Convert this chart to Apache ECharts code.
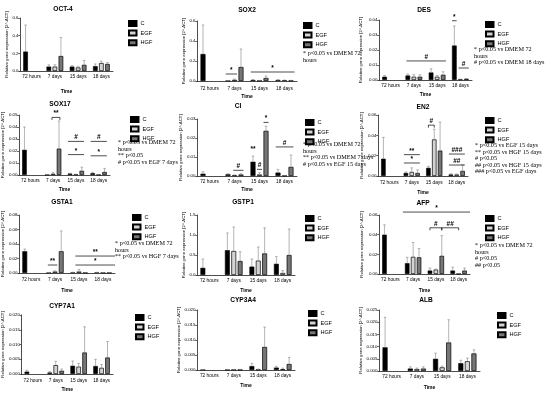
<!DOCTYPE html>
<html><head><meta charset="utf-8">
<script src="https://cdn.jsdelivr.net/npm/echarts@6/dist/echarts.min.js"></script>
<style>html,body{margin:0;padding:0;background:#fff}#c{width:550px;height:394px}</style>
</head><body><div id="c"></div>
<script>
const categories = ['72 hours', '7 days', '15 days', '18 days'];
const groups = ['C', 'EGF', 'HGF'];

// ---- means and error-bar tops (mean + SD), per gene ----
const OCT4_C = [0.22, 0.05, 0.05, 0.055],   OCT4_C_UP = [0.52, 0.07, 0.06, 0.08];
const OCT4_EGF = [null, 0.05, 0.04, 0.09],  OCT4_EGF_UP = [null, 0.07, 0.05, 0.11];
const OCT4_HGF = [null, 0.17, 0.07, 0.08],  OCT4_HGF_UP = [null, 0.38, 0.12, 0.095];

const SOX2_C = [0.27, 0.003, 0.01, 0.01],    SOX2_C_UP = [0.56, 0.005, 0.015, 0.013];
const SOX2_EGF = [null, 0.012, 0.004, 0.008], SOX2_EGF_UP = [null, 0.02, 0.006, 0.01];
const SOX2_HGF = [null, 0.14, 0.03, 0.005],   SOX2_HGF_UP = [null, 0.32, 0.05, 0.007];

const DES_C = [0.0022, 0.003, 0.005, 0.023],    DES_C_UP = [0.003, 0.004, 0.0075, 0.036];
const DES_EGF = [null, 0.0022, 0.0022, 0.0005], DES_EGF_UP = [null, 0.0035, 0.003, 0.0006];
const DES_HGF = [null, 0.0022, 0.0035, 0.0008], DES_HGF_UP = [null, 0.0035, 0.0055, 0.001];

const SOX17_C = [0.021, 0.0002, 0.0012, 0.0015], SOX17_C_UP = [0.040, 0.0003, 0.0015, 0.0022];
const SOX17_EGF = [null, 0.001, 0.0005, 0.0003], SOX17_EGF_UP = [null, 0.002, 0.0007, 0.0004];
const SOX17_HGF = [null, 0.022, 0.0035, 0.0025], SOX17_HGF_UP = [null, 0.045, 0.0065, 0.0055];

const CI_C = [0.0012, 0.0009, 0.0075, 0.0018], CI_C_UP = [0.0022, 0.0012, 0.0105, 0.0035];
const CI_EGF = [null, 0.0004, 0.0008, 0.0002], CI_EGF_UP = [null, 0.0006, 0.0018, 0.0003];
const CI_HGF = [null, 0.0008, 0.0238, 0.0048], CI_HGF_UP = [null, 0.0012, 0.0262, 0.011];

const EN2_C = [0.017, 0.003, 0.008, 0.0015], EN2_C_UP = [0.038, 0.004, 0.0095, 0.0022];
const EN2_EGF = [null, 0.004, 0.036, 0.0015], EN2_EGF_UP = [null, 0.008, 0.046, 0.002];
const EN2_HGF = [null, 0.003, 0.025, 0.005],  EN2_HGF_UP = [null, 0.006, 0.053, 0.011];

const GSTA1_C = [0.030, 0.0002, 0.0008, 0.0008], GSTA1_C_UP = [0.033, 0.0003, 0.001, 0.001];
const GSTA1_EGF = [null, 0.002, 0.002, 0.0002],  GSTA1_EGF_UP = [null, 0.003, 0.005, 0.0003];
const GSTA1_HGF = [null, 0.030, 0.0003, 0.0002], GSTA1_HGF_UP = [null, 0.058, 0.0004, 0.0003];

const GSTP1_C = [0.18, 0.62, 0.21, 0.28],   GSTP1_C_UP = [0.40, 1.05, 0.40, 0.46];
const GSTP1_EGF = [null, 0.60, 0.36, 0.05], GSTP1_EGF_UP = [null, 1.20, 0.70, 0.11];
const GSTP1_HGF = [null, 0.35, 0.54, 0.50], GSTP1_HGF_UP = [null, 0.58, 1.18, 1.15];

const AFP_C = [0.040, 0.011, 0.0035, 0.0035],  AFP_C_UP = [0.050, 0.017, 0.006, 0.007];
const AFP_EGF = [null, 0.0175, 0.0045, 0.0003], AFP_EGF_UP = [null, 0.032, 0.005, 0.0005];
const AFP_HGF = [null, 0.017, 0.0185, 0.0035],  AFP_HGF_UP = [null, 0.026, 0.039, 0.006];

const CYP7A1_C = [0.0008, 0.0005, 0.0028, 0.0027], CYP7A1_C_UP = [0.0013, 0.0008, 0.0044, 0.005];
const CYP7A1_EGF = [null, 0.003, 0.0025, 0.0021],  CYP7A1_EGF_UP = [null, 0.0043, 0.0036, 0.0032];
const CYP7A1_HGF = [null, 0.0011, 0.0073, 0.0056], CYP7A1_HGF_UP = [null, 0.0017, 0.016, 0.011];

const CYP3A4_C = [0.00005, 0.00005, 0.0013, 0.0008], CYP3A4_C_UP = [0.00008, 0.0001, 0.0022, 0.0012];
const CYP3A4_EGF = [null, 0.00005, 0.0001, 0.0003],  CYP3A4_EGF_UP = [null, 0.0001, 0.0003, 0.0006];
const CYP3A4_HGF = [null, 0.0001, 0.0077, 0.002],    CYP3A4_HGF_UP = [null, 0.0002, 0.0143, 0.0042];

const ALB_C = [0.0097, 0.001, 0.005, 0.0032],  ALB_C_UP = [0.022, 0.0017, 0.0073, 0.0044];
const ALB_EGF = [null, 0.0008, 0.0015, 0.004], ALB_EGF_UP = [null, 0.0012, 0.002, 0.0053];
const ALB_HGF = [null, 0.001, 0.0117, 0.0072], ALB_HGF_UP = [null, 0.0017, 0.021, 0.0087];

// y-axis scales
const yMax  = [0.6, 0.6, 0.04, 0.05, 0.03, 0.06, 0.08, 1.5, 0.06, 0.02, 0.02, 0.025];
const yStep = [0.2, 0.2, 0.01, 0.01, 0.01, 0.02, 0.02, 0.5, 0.02, 0.005, 0.005, 0.005];
const yDec  = [1, 1, 2, 2, 2, 2, 2, 1, 2, 3, 3, 3];

// significance marks: [from (group units), to, y value, label, kind 0=line 1=bracket 2=text only]
const SOX2_SIG = [[0.65, 1.1, 0.07, '*', 0], [1.65, 3.4, 0.09, '*', 0]];
const DES_SIG = [[0.68, 2.38, 0.0127, '#', 0], [2.64, 2.84, 0.0395, '*', 0], [2.92, 3.36, 0.008, '#', 0]];
const SOX17_SIG = [[0.95, 1.3, 0.048, '**', 1], [1.65, 2.36, 0.028, '#', 0], [1.65, 2.36, 0.017, '*', 0],
                   [2.65, 3.36, 0.028, '#', 0], [2.65, 3.36, 0.016, '*', 0]];
const CI_SIG = [[0.95, 1.36, 0.003, '#', 0], [1.74, 1.74, 0.0122, '**', 2], [1.9, 2.1, 0.0035, '#', 0],
                [2.16, 2.36, 0.0282, '*', 0], [2.65, 3.36, 0.0153, '#', 0]];
const EN2_SIG = [[0.65, 1.36, 0.021, '**', 0], [0.65, 1.36, 0.0128, '*', 0], [1.74, 2.0, 0.05, '#', 1],
                 [2.65, 3.36, 0.0216, '###', 0], [2.65, 3.36, 0.0108, '##', 0]];
const GSTA1_SIG = [[0.7, 1.1, 0.011, '**', 0], [1.85, 3.5, 0.0234, '**', 0], [1.85, 3.5, 0.011, '*', 0]];
const AFP_SIG = [[0.55, 3.5, 0.063, '*', 0], [1.74, 2.26, 0.047, '#', 1], [2.26, 3.0, 0.047, '##', 1]];

const notes = [
  null,
  '* p<0.05 vs DMEM 72\nhours',
  '* p<0.05 vs DMEM 72\nhours\n# p<0.05 vs DMEM 18 days',
  '* p<0.05 vs DMEM 72\nhours\n** p<0.05\n# p<0.05 vs EGF 7 days',
  '* p<0.05 vs DMEM 72\nhours\n** p<0.05 vs DMEM 7 days\n# p<0.05 vs EGF 15 days',
  '* p<0.05 vs EGF 15 days\n** p<0.05 vs HGF 15 days\n# p<0.05\n## p<0.05 vs HGF 15 days\n### p<0.05 vs EGF days',
  '* p<0.05 vs DMEM 72\nhours\n** p<0.05 vs HGF 7 days',
  null,
  '* p<0.05 vs DMEM 72\nhours\n# p<0.05\n## p<0.05',
  null, null, null
];

const panels = [
  {t: 'OCT-4',  m: [OCT4_C, OCT4_EGF, OCT4_HGF], u: [OCT4_C_UP, OCT4_EGF_UP, OCT4_HGF_UP], s: []},
  {t: 'SOX2',   m: [SOX2_C, SOX2_EGF, SOX2_HGF], u: [SOX2_C_UP, SOX2_EGF_UP, SOX2_HGF_UP], s: SOX2_SIG},
  {t: 'DES',    m: [DES_C, DES_EGF, DES_HGF], u: [DES_C_UP, DES_EGF_UP, DES_HGF_UP], s: DES_SIG},
  {t: 'SOX17',  m: [SOX17_C, SOX17_EGF, SOX17_HGF], u: [SOX17_C_UP, SOX17_EGF_UP, SOX17_HGF_UP], s: SOX17_SIG},
  {t: 'CI',     m: [CI_C, CI_EGF, CI_HGF], u: [CI_C_UP, CI_EGF_UP, CI_HGF_UP], s: CI_SIG},
  {t: 'EN2',    m: [EN2_C, EN2_EGF, EN2_HGF], u: [EN2_C_UP, EN2_EGF_UP, EN2_HGF_UP], s: EN2_SIG},
  {t: 'GSTA1',  m: [GSTA1_C, GSTA1_EGF, GSTA1_HGF], u: [GSTA1_C_UP, GSTA1_EGF_UP, GSTA1_HGF_UP], s: GSTA1_SIG},
  {t: 'GSTP1',  m: [GSTP1_C, GSTP1_EGF, GSTP1_HGF], u: [GSTP1_C_UP, GSTP1_EGF_UP, GSTP1_HGF_UP], s: []},
  {t: 'AFP',    m: [AFP_C, AFP_EGF, AFP_HGF], u: [AFP_C_UP, AFP_EGF_UP, AFP_HGF_UP], s: AFP_SIG},
  {t: 'CYP7A1', m: [CYP7A1_C, CYP7A1_EGF, CYP7A1_HGF], u: [CYP7A1_C_UP, CYP7A1_EGF_UP, CYP7A1_HGF_UP], s: []},
  {t: 'CYP3A4', m: [CYP3A4_C, CYP3A4_EGF, CYP3A4_HGF], u: [CYP3A4_C_UP, CYP3A4_EGF_UP, CYP3A4_HGF_UP], s: []},
  {t: 'ALB',    m: [ALB_C, ALB_EGF, ALB_HGF], u: [ALB_C_UP, ALB_EGF_UP, ALB_HGF_UP], s: []}
];

// layout: left, top, width, height, titleX, titleY, legendLeft, legendTop, yNameGap, xLabelMargin, xNameGap, noteX, noteY
const LAYOUT = [
  [20, 18, 93, 53,   63, 9,    128, 20,  11, 3.5, 18, 0, 0],
  [197, 21, 100, 60, 247, 10,  303, 22,  8, 5.5, 13,  303, 50],
  [379, 20, 93, 60,  424, 10,  485, 21,  16, 3.5, 12, 474, 46],
  [19, 115, 91, 60,  60, 104,  130, 116, 10, 3, 12,   118, 139],
  [197, 119, 100, 57, 238, 106, 305, 119, 9, 3, 11,   303, 141],
  [378, 115, 90, 61, 423, 107, 485, 117, 14, 4.5, 14, 475, 142],
  [19, 215, 96, 58,  62, 202,  132, 214, 10, 4.5, 15, 115, 240],
  [197, 215, 98, 60, 243, 202, 305, 215, 9, 3.5, 13,  0, 0],
  [379, 215, 91, 59, 423, 203, 485, 215, 15, 3.5, 14, 475, 242],
  [19, 315, 94, 59,  62, 306,  135, 314, 10, 4.5, 13, 0, 0],
  [197, 310, 98, 60, 243, 300, 308, 310, 10, 3.5, 13, 0, 0],
  [379, 310, 101, 61, 426, 300, 497, 312, 15, 3.5, 14, 0, 0]
];

const SANS = 'Liberation Sans, Arial, sans-serif';
const SERIF = 'Liberation Serif, Times New Roman, serif';
const barStyles = [
  {color: '#000000', borderColor: '#000', borderWidth: 0.6},
  {color: '#d4d4d4', borderColor: '#000', borderWidth: 0.7},
  {color: '#767676', borderColor: '#000', borderWidth: 0.7}
];
const OFFSET = 0.26;

function renderErr(params, api) {
  const top = api.coord([api.value(0), api.value(1)]);
  const base = api.coord([api.value(0), api.value(2)]);
  const bw = api.size([1, 0])[0];
  const x = top[0] + (api.value(3) - 1) * OFFSET * bw;
  const cap = 1.3;
  const st = {stroke: '#8c8c8c', lineWidth: 0.65};
  return {type: 'group', children: [
    {type: 'line', shape: {x1: x, y1: base[1], x2: x, y2: top[1]}, style: st},
    {type: 'line', shape: {x1: x - cap, y1: top[1], x2: x + cap, y2: top[1]}, style: st}
  ]};
}
function makeSig(list) {
  return function (params, api) {
    const a = list[params.dataIndex];
    const p0 = api.coord([0, a[2]]);
    const bw = api.size([1, 0])[0];
    const x1 = p0[0] + a[0] * bw, x2 = p0[0] + a[1] * bw, y = p0[1];
    const ch = [];
    const st = {stroke: '#000', lineWidth: 0.7};
    if (a[4] !== 2) ch.push({type: 'line', shape: {x1: x1, y1: y, x2: x2, y2: y}, style: st});
    if (a[4] === 1) {
      ch.push({type: 'line', shape: {x1: x1, y1: y, x2: x1, y2: y + 2.5}, style: st});
      ch.push({type: 'line', shape: {x1: x2, y1: y, x2: x2, y2: y + 2.5}, style: st});
    }
    ch.push({type: 'text', x: (x1 + x2) / 2, y: y - 0.3,
      style: {text: a[3], align: 'center', verticalAlign: 'bottom', font: 'bold 6.5px ' + SANS, fill: '#000'}});
    return {type: 'group', children: ch};
  };
}

const option = {
  animation: false,
  backgroundColor: '#fff',
  grid: [], xAxis: [], yAxis: [], series: [], legend: [], graphic: []
};

panels.forEach(function (p, i) {
  const L = LAYOUT[i];
  option.grid.push({left: L[0], top: L[1], width: L[2], height: L[3], containLabel: false});
  option.xAxis.push({
    type: 'category', gridIndex: i, data: categories,
    name: 'Time', nameLocation: 'middle', nameGap: L[10],
    nameTextStyle: {fontSize: 5, fontWeight: 'bold', fontFamily: SANS, color: '#000'},
    axisLine: {lineStyle: {color: '#000', width: 0.7}},
    axisTick: {alignWithLabel: true, length: 1.8, lineStyle: {color: '#000', width: 0.6}},
    axisLabel: {fontSize: 4.8, margin: L[9], color: '#000', fontFamily: SANS, interval: 0}
  });
  option.yAxis.push({
    type: 'value', gridIndex: i, min: 0, max: yMax[i], interval: yStep[i],
    name: 'Relative gene expression [2^-\u0394CT]', nameLocation: 'middle', nameGap: L[8],
    nameTextStyle: {fontSize: 4.3, fontFamily: SANS, color: '#000'},
    splitLine: {show: false},
    axisLine: {show: true, lineStyle: {color: '#000', width: 0.7}},
    axisTick: {show: true, length: 1.8, lineStyle: {color: '#000', width: 0.6}},
    axisLabel: {fontSize: 4.4, margin: 1.5, color: '#000', fontFamily: SANS,
      formatter: function (v) { return v.toFixed(yDec[i]); }}
  });
  groups.forEach(function (g, k) {
    option.series.push({
      type: 'bar', name: g, xAxisIndex: i, yAxisIndex: i,
      barWidth: '20%', barGap: '30%', data: p.m[k], itemStyle: barStyles[k], z: 2
    });
  });
  const err = [];
  groups.forEach(function (g, k) {
    p.m[k].forEach(function (v, c) {
      if (v != null && p.u[k][c] != null) err.push([c, p.u[k][c], v, k]);
    });
  });
  option.series.push({type: 'custom', name: 'err' + i, xAxisIndex: i, yAxisIndex: i,
    renderItem: renderErr, data: err, encode: {x: 0, y: 1}, z: 3, silent: true});
  if (p.s.length) {
    option.series.push({type: 'custom', name: 'sig' + i, xAxisIndex: i, yAxisIndex: i,
      renderItem: makeSig(p.s), data: p.s.map(function (a) { return [0, a[2]]; }),
      encode: {x: 0, y: 1}, z: 4, silent: true, clip: false});
  }
  option.legend.push({
    data: groups, orient: 'vertical', left: L[6], top: L[7], padding: 0,
    itemWidth: 7.5, itemHeight: 5, itemGap: 2.6, icon: 'rect',
    textStyle: {fontSize: 5.6, fontFamily: SANS, color: '#000', padding: [0, 0, 0, -1]}
  });
  option.graphic.push({type: 'text', silent: true, x: L[4], y: L[5],
    style: {text: p.t, font: 'bold 6.6px ' + SANS, fill: '#000', align: 'center', verticalAlign: 'middle'}});
  if (notes[i]) {
    option.graphic.push({type: 'text', silent: true, x: L[11], y: L[12],
      style: {text: notes[i], font: '6.2px ' + SERIF, fill: '#000', lineHeight: 6.6, align: 'left', verticalAlign: 'top'}});
  }
});

const chart = echarts.init(document.getElementById('c'), null, {renderer: 'canvas'});
chart.setOption(option);
</script>
</body></html>
